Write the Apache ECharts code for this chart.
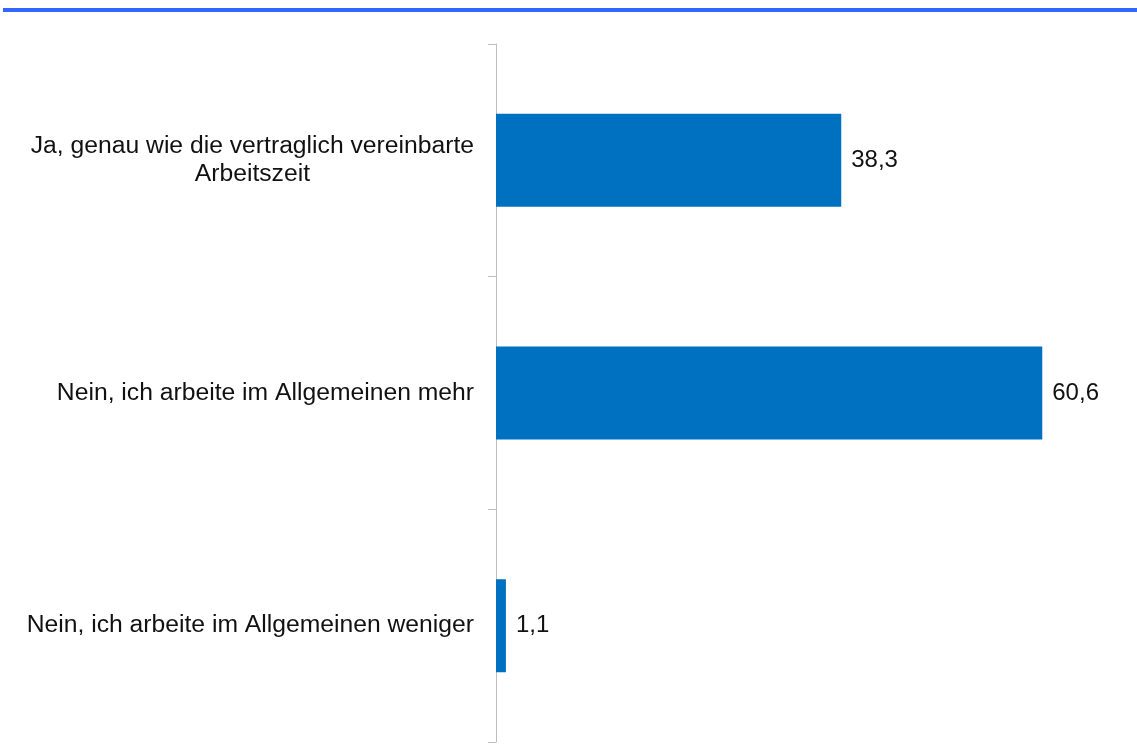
<!DOCTYPE html>
<html>
<head>
<meta charset="utf-8">
<script src="https://cdn.jsdelivr.net/npm/echarts@6/dist/echarts.min.js"></script>
<style>
  html, body { margin: 0; padding: 0; background: #fff; }
  #chart { width: 1137px; height: 753px; }
</style>
</head>
<body>
<div id="chart"></div>
<script>
// Kategorien und Werte (in Prozent)
var categories = [
    'Ja, genau wie die vertraglich vereinbarte\nArbeitszeit',
    'Nein, ich arbeite im Allgemeinen mehr',
    'Nein, ich arbeite im Allgemeinen weniger'
];
var values = [38.3, 60.6, 1.1];

var myChart = echarts.init(document.getElementById('chart'));
var option = {
    animation: false,
    backgroundColor: '#fff',
    graphic: [{
        type: 'rect',
        left: 3, top: 8,
        shape: { width: 1134, height: 4 },
        style: { fill: '#3366ff' }
    }],
    grid: { left: 496, right: 10, top: 44, bottom: 11 },
    xAxis: {
        type: 'value',
        min: 0,
        max: 70,
        show: false
    },
    yAxis: {
        type: 'category',
        inverse: true,
        data: categories,
        axisLine: { lineStyle: { color: '#bfbfbf', width: 1 } },
        axisTick: { show: true, length: 8, lineStyle: { color: '#bfbfbf' } },
        axisLabel: {
            margin: 22,
            align: 'right',
            // Zeilen innerhalb des Blocks zentrieren
            formatter: function (v) {
                return v.split('\n').map(function (s) { return '{c|' + s + '}'; }).join('\n');
            },
            rich: {
                c: {
                    align: 'center',
                    color: '#111',
                    fontFamily: 'Liberation Sans, Arial, sans-serif',
                    fontSize: 24.7,
                    lineHeight: 28
                }
            }
        }
    },
    series: [{
        type: 'bar',
        data: values,
        barWidth: '40%',
        itemStyle: { color: '#0070c0' },
        label: {
            show: true,
            position: 'right',
            distance: 10,
            color: '#111',
            fontFamily: 'Liberation Sans, Arial, sans-serif',
            fontSize: 24,
            formatter: function (p) {
                return p.value.toFixed(1).replace('.', ',');
            }
        }
    }]
};
myChart.setOption(option);
</script>
</body>
</html>
